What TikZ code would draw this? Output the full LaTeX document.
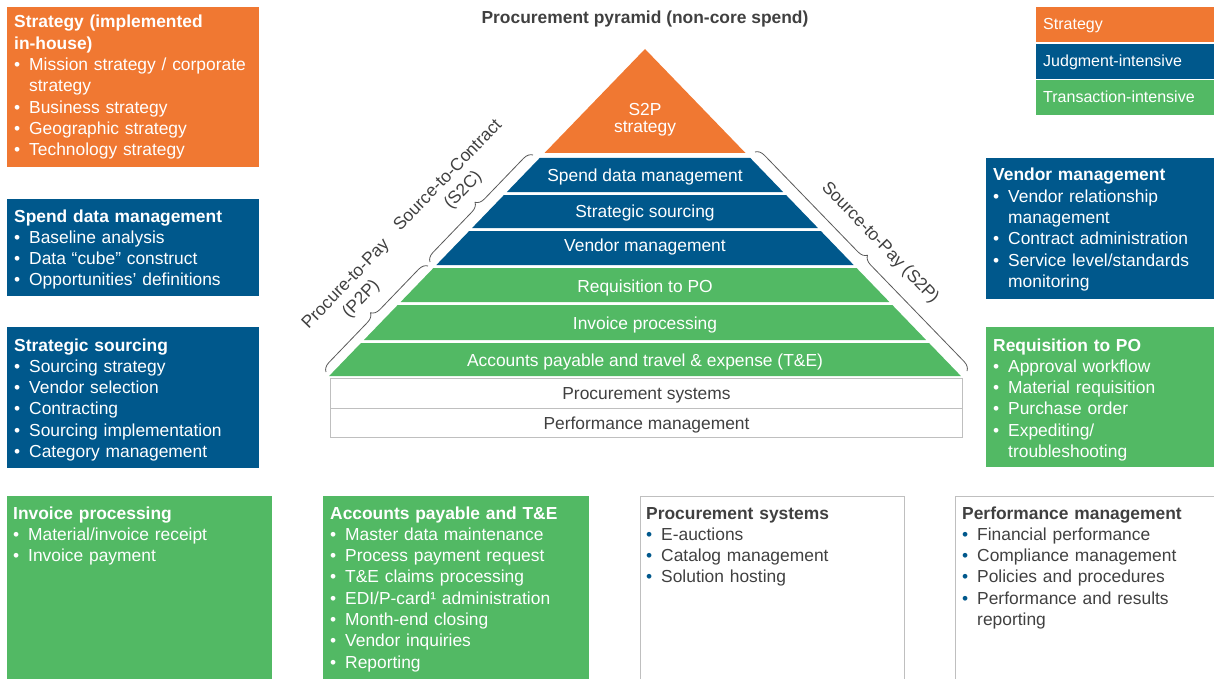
\documentclass[tikz,border=0pt]{standalone}
\usepackage{fontspec}
\setmainfont{Liberation Sans}
\usetikzlibrary{decorations.pathreplacing}
\definecolor{porange}{HTML}{F07832}
\definecolor{pblue}{HTML}{00588C}
\definecolor{pgreen}{HTML}{52B964}
\definecolor{ptext}{HTML}{404040}
\definecolor{pborder}{HTML}{BFBFBF}
\definecolor{pbrace}{HTML}{595959}
\newcommand\bodyfont{\fontsize{17.4}{21.3}\selectfont}
\newcommand\bulcol{white}
\newcommand\hd[1]{\noindent\textbf{#1}}
\newcommand\bi[1]{\par\hangindent=15pt\hangafter=1\noindent\makebox[15pt][l]{\textcolor{\bulcol}{\textbullet}}#1\par}
\newcommand\pyr[6]{%
  \pgfmathsetmacro\pta{0.966*(#2-49)}%
  \pgfmathsetmacro\ptb{0.966*(#3-49)}%
  \fill[#4] ({645-\pta},#2) -- ({645+\pta},#2) -- ({645+\ptb},#3) -- ({645-\ptb},#3) -- cycle;
  \node[bandtext] (#1) at (645,#5) {#6};}
\tikzset{
  boxtext/.style={anchor=base west, inner sep=0pt, text width=240pt, align=left, font=\bodyfont, text=white},
  wboxtext/.style={boxtext, text=ptext, font=\bodyfont\renewcommand\bulcol{pblue}},
  bandtext/.style={inner sep=0pt, anchor=base, font=\bodyfont, text=white},
  wbox/.style={anchor=north west, draw=pborder, line width=1pt, minimum width=632pt, inner sep=0pt, text height=13pt, text depth=1pt, font=\bodyfont, text=ptext},
  legend/.style={anchor=north west, minimum width=178pt, minimum height=35pt, inner xsep=7pt, inner ysep=0pt, text width=164pt, text height=12pt, text depth=3pt, align=left, text=white, font=\fontsize{16}{19}\selectfont},
  brc/.style={decorate, decoration={brace, amplitude=9pt}, draw=pbrace, line width=0.8pt},
  lbl/.style={font=\bodyfont, text=ptext, inner sep=0pt, align=center},
  wframe/.style={draw=pborder, line width=1pt}
}
\begin{document}
\begin{tikzpicture}[x=1pt,y=-1pt]
\useasboundingbox (0,0) rectangle (1214,679);

% title
\node[anchor=base, font=\bodyfont\bfseries, text=ptext, inner sep=0pt] (title) at (645,24) {Procurement pyramid (non-core spend)};

% legend
\node[legend, fill=porange] (lgS) at (1036,7) {Strategy};
\node[legend, fill=pblue] (lgJ) at (1036,44) {Judgment-intensive};
\node[legend, fill=pgreen] (lgT) at (1036,80) {Transaction-intensive};

% pyramid
\fill[porange] (645,49) -- (745.5,153) -- (544.5,153) -- cycle;
\node[bandtext, text width=100pt, align=center, font=\fontsize{17.4}{17}\selectfont] (top) at (645,116) {S2P\\strategy};
\pyr{b1}{158}{192}{pblue}{182}{Spend data management}
\pyr{b2}{195}{228}{pblue}{217}{Strategic sourcing}
\pyr{b3}{231}{265}{pblue}{251}{Vendor management}
\pyr{g1}{268}{302}{pgreen}{292}{Requisition to PO}
\pyr{g2}{305}{340}{pgreen}{329}{Invoice processing}
\pyr{g3}{343}{376}{pgreen}{366}{Accounts payable and travel \& expense (T\&E)}
\node[wbox, minimum height=30pt] (psys) at (330,378) {Procurement systems};
\node[wbox, minimum height=29pt] (pmgmt) at (330,408) {Performance management};

% braces
\coordinate (s2cA) at (430,262);
\coordinate (s2cB) at (533,155);
\coordinate (p2pA) at (326,372);
\coordinate (p2pB) at (428,266);
\coordinate (s2pA) at (755,152);
\coordinate (s2pB) at (967,371);
\draw[brc] (s2cA) -- (s2cB);
\draw[brc] (p2pA) -- (p2pB);
\draw[brc] (s2pA) -- (s2pB);
\node[lbl, rotate=46] (s2c) at (456,183) {Source-to-Contract\\(S2C)};
\node[lbl, rotate=46] (p2p) at (354,292) {Procure-to-Pay\\(P2P)};
\node[lbl, rotate=-46] (s2p) at (880,243) {Source-to-Pay (S2P)};

% left boxes
\fill[porange] (7,7) rectangle (259,167);
\node[boxtext] (tStrat) at (14,28) {\hd{Strategy (implemented\newline in-house)}
\bi{Mission strategy / corporate\newline strategy}
\bi{Business strategy}
\bi{Geographic strategy}
\bi{Technology strategy}};

\fill[pblue] (7,199) rectangle (259,296);
\node[boxtext] (tSpend) at (14,222) {\hd{Spend data management}
\bi{Baseline analysis}
\bi{Data “cube” construct}
\bi{Opportunities’ definitions}};

\fill[pblue] (7,327) rectangle (259,468);
\node[boxtext] (tSourc) at (14,351) {\hd{Strategic sourcing}
\bi{Sourcing strategy}
\bi{Vendor selection}
\bi{Contracting}
\bi{Sourcing implementation}
\bi{Category management}};

% right boxes
\fill[pblue] (986,158) rectangle (1214,299);
\node[boxtext] (tVend) at (993,181) {\hd{Vendor management}
\bi{Vendor relationship\newline management}
\bi{Contract administration}
\bi{Service level/standards\newline monitoring}};

\fill[pgreen] (986,327) rectangle (1214,467);
\node[boxtext] (tReq) at (993,351) {\hd{Requisition to PO}
\bi{Approval workflow}
\bi{Material requisition}
\bi{Purchase order}
\bi{Expediting/\newline troubleshooting}};

% bottom boxes
\fill[pgreen] (7,496) rectangle (272,685);
\node[boxtext] (tInv) at (13,519) {\hd{Invoice processing}
\bi{Material/invoice receipt}
\bi{Invoice payment}};

\fill[pgreen] (323,496) rectangle (589,685);
\node[boxtext] (tAP) at (330,519) {\hd{Accounts payable and T\&E}
\bi{Master data maintenance}
\bi{Process payment request}
\bi{T\&E claims processing}
\bi{EDI/P-card¹ administration}
\bi{Month-end closing}
\bi{Vendor inquiries}
\bi{Reporting}};

\draw[wframe] (640,685) -- (640,496) -- (904,496) -- (904,685);
\node[wboxtext] (tPS) at (646,519) {\hd{Procurement systems}
\bi{E-auctions}
\bi{Catalog management}
\bi{Solution hosting}};

\draw[wframe] (955,685) -- (955,496) -- (1220,496);
\node[wboxtext] (tPM) at (962,519) {\hd{Performance management}
\bi{Financial performance}
\bi{Compliance management}
\bi{Policies and procedures}
\bi{Performance and results\newline reporting}};
\end{tikzpicture}
\end{document}
